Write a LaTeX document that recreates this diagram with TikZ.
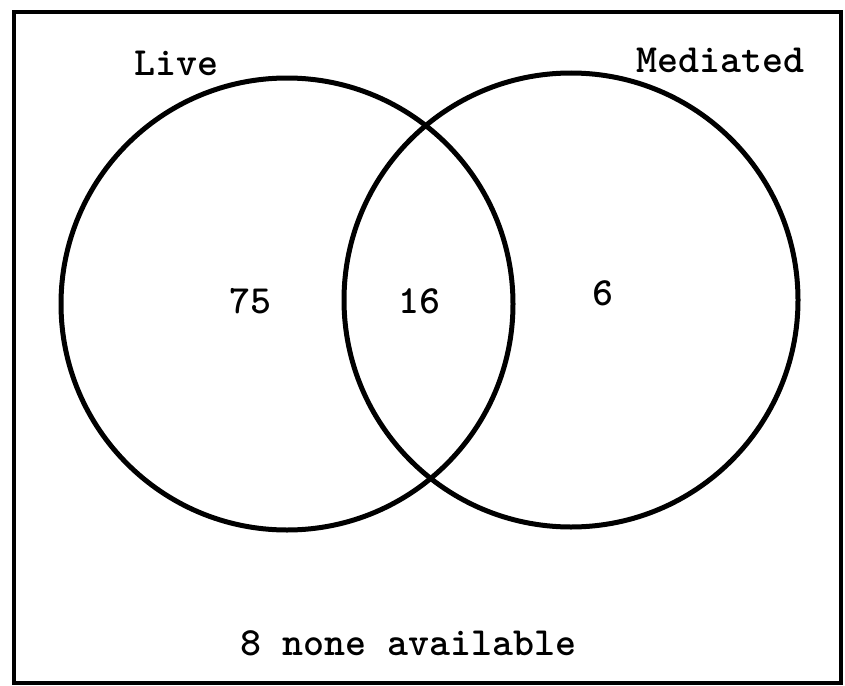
\documentclass[tikz,border=0pt]{standalone}
\begin{document}
\begin{tikzpicture}[x=1pt,y=-1pt,
  lbl/.style={font=\fontsize{40}{40}\selectfont\ttfamily\bfseries, inner sep=0pt, anchor=base},
  ring/.style={draw=black, line width=5pt},
  frame/.style={draw=black, line width=3.5pt}]
\useasboundingbox (0,0) rectangle (845,685);
\node[frame, minimum width=827pt, minimum height=671pt, inner sep=0pt] (border) at (427.5,347.5) {};
\node[ring, circle, minimum size=452pt, inner sep=0pt] (live) at (287,304) {};
\node[ring, circle, minimum size=454pt, inner sep=0pt] (med) at (571,300) {};
\node[lbl] (tlive) at (176,75) {Live};
\node[lbl] (tmed) at (720,73) {Mediated};
\node[lbl] (n75) at (250,313) {75};
\node[lbl] (n16) at (419,313) {16};
\node[lbl] (n6) at (603,305) {6};
\node[lbl] (none) at (408,655) {8 none available};
\end{tikzpicture}
\end{document}
